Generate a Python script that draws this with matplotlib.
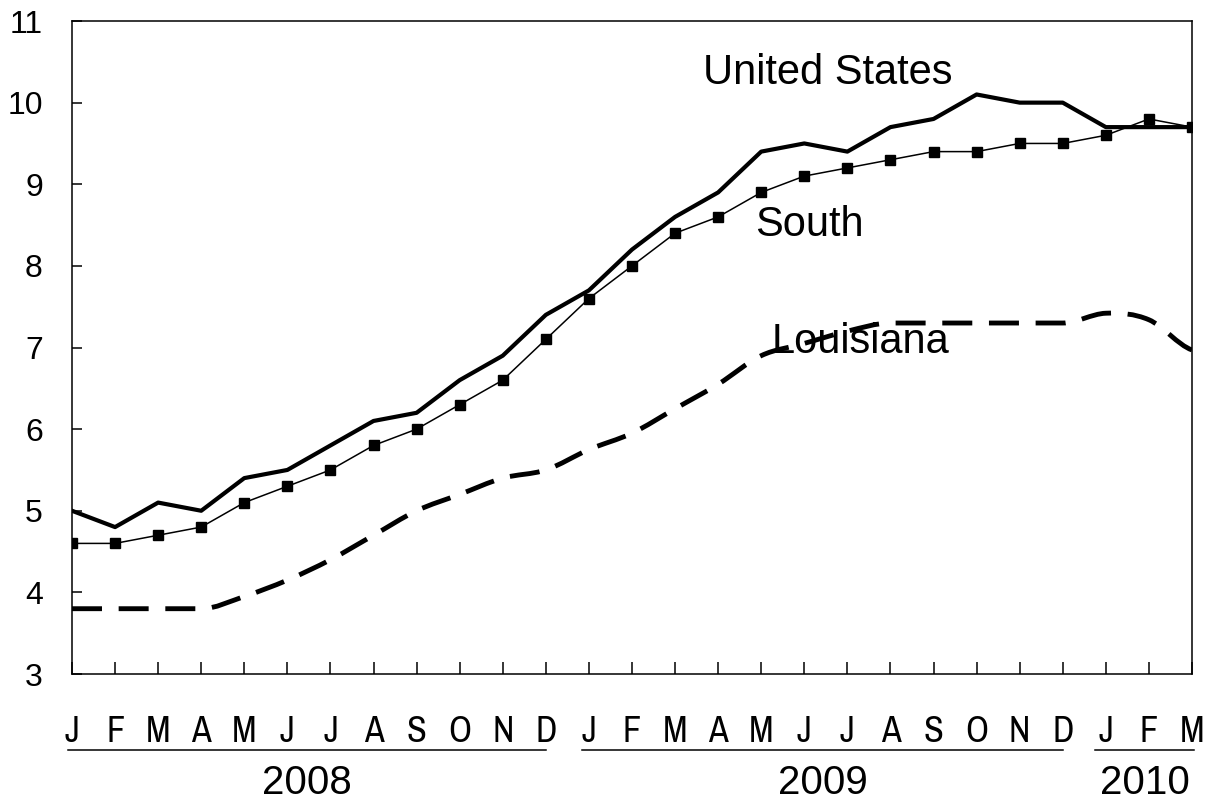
import numpy as np
import matplotlib.pyplot as plt
import matplotlib.transforms as mtransforms
from matplotlib.path import Path
from matplotlib.patches import PathPatch

plt.rcParams['lines.scale_dashes'] = False

months = list("JFMAMJJASOND") * 2 + list("JFM")
years = ['2008', '2009', '2010']

us = [5.0, 4.8, 5.1, 5.0, 5.4, 5.5, 5.8, 6.1, 6.2, 6.6, 6.9, 7.4,
      7.7, 8.2, 8.6, 8.9, 9.4, 9.5, 9.4, 9.7, 9.8, 10.1, 10.0, 10.0,
      9.7, 9.7, 9.7]
south = [4.6, 4.6, 4.7, 4.8, 5.1, 5.3, 5.5, 5.8, 6.0, 6.3, 6.6, 7.1,
         7.6, 8.0, 8.4, 8.6, 8.9, 9.1, 9.2, 9.3, 9.4, 9.4, 9.5, 9.5,
         9.6, 9.8, 9.7]
louisiana = [3.8, 3.8, 3.8, 3.8, 3.95, 4.15, 4.4, 4.7, 5.0, 5.2, 5.4, 5.5,
             5.75, 5.95, 6.25, 6.55, 6.9, 7.05, 7.2, 7.3, 7.3, 7.3, 7.3, 7.3,
             7.42, 7.34, 6.97]

# layout only: underline spans for the year groups (in month units)
year_spans = [(-0.1, 11.0), (11.85, 23.0), (23.75, 26.05)]

narrow = ['Liberation Sans Narrow', 'Archivo Narrow', 'Liberation Sans']

x = np.arange(len(months))

fig = plt.figure(figsize=(12.16, 8.02), dpi=100)
ax = fig.add_axes([0.0592, 0.1596, 0.92105, 0.8142])

ax.plot(x, us, color='black', lw=3.0, zorder=3)
ax.plot(x, south, color='black', lw=1.1, marker='s', ms=6.5, zorder=4)

# smoothed dashed line through the points (cubic Bezier segments),
# flat tangent where a point equals a neighbour
y = np.array(louisiana, dtype=float)
n = len(y)
tang = np.zeros(n)
for i in range(n):
    lo = y[i - 1] if i > 0 else y[i]
    hi = y[i + 1] if i + 1 < n else y[i]
    if i > 0 and y[i - 1] == y[i] or i + 1 < n and y[i + 1] == y[i]:
        tang[i] = 0
    else:
        tang[i] = (hi - lo) / 2
verts = [(x[0], y[0])]
codes = [Path.MOVETO]
for i in range(n - 1):
    verts += [(x[i] + 1 / 3, y[i] + tang[i] / 3),
              (x[i + 1] - 1 / 3, y[i + 1] - tang[i + 1] / 3),
              (x[i + 1], y[i + 1])]
    codes += [Path.CURVE4] * 3
ax.add_patch(PathPatch(Path(verts, codes), fill=False, edgecolor='black',
                       lw=3.5, linestyle=(0, (21.6, 12)), zorder=2))

ax.set_xlim(0, len(months) - 1)
ax.set_ylim(3, 11)
ax.set_yticks(range(3, 12))
ax.set_xticks(x)
ax.set_xticklabels([])

for s in ax.spines.values():
    s.set_linewidth(1.1)

ax.tick_params(axis='y', direction='in', length=7.5, width=1.1, pad=21,
               labelsize=23)
ax.tick_params(axis='x', direction='in', length=8.5, width=1.1)
for lab in ax.get_yticklabels():
    lab.set_fontfamily('Liberation Sans')

trans = mtransforms.blended_transform_factory(ax.transData, ax.transAxes)
for i, m in enumerate(months):
    ax.text(x[i], -0.104, m, transform=trans, ha='center', va='baseline',
            fontsize=26, family=narrow)

for yr, (a, b) in zip(years, year_spans):
    ax.plot([a, b], [-0.1164, -0.1164], transform=trans, color='black',
            lw=1.1, clip_on=False)
    ax.text((a + b) / 2, -0.184, yr, transform=trans, ha='center',
            va='baseline', fontsize=29, family='Liberation Sans')

lab_font = dict(fontsize=30, family='Liberation Sans', va='baseline')
ax.text(14.65, 10.23, 'United States', **lab_font)
ax.text(15.85, 8.36, 'South', **lab_font)
ax.text(16.25, 6.93, 'Louisiana', zorder=5, **lab_font)

fig.savefig('out.png', dpi=100)
